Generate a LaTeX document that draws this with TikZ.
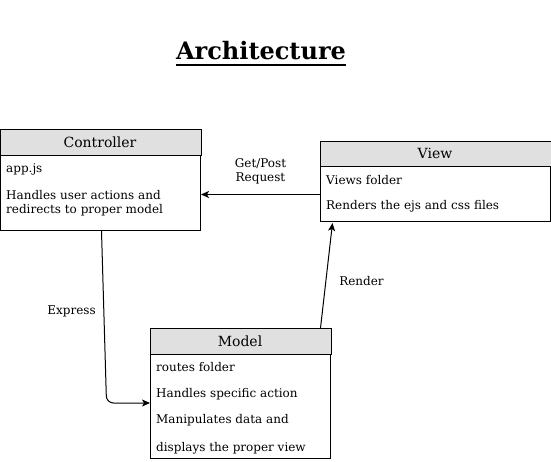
\documentclass[tikz,border=0pt]{standalone}
\usepackage{fontspec}
\setmainfont{DejaVu Serif}
\usetikzlibrary{arrows.meta,calc}
\definecolor{hdrgray}{RGB}{224,224,224}
\tikzset{
  box/.style={draw=black, line width=1pt, rectangle, inner sep=0pt, anchor=north west},
  hdr/.style={fill=hdrgray, draw=black, line width=1pt},
  hdrtext/.style={font=\fontsize{14}{16}\selectfont, anchor=base, inner sep=0pt},
  bodytext/.style={font=\fontsize{12}{14.4}\selectfont, anchor=base west, inner sep=0pt},
  lbl/.style={font=\fontsize{12}{14.4}\selectfont, inner sep=0pt, align=center},
  conn/.style={draw=black, line width=1pt, -{Stealth[length=8pt,width=7pt,inset=2pt]}},
}
\begin{document}
\begin{tikzpicture}[x=1pt,y=-1pt]
\useasboundingbox (0,0) rectangle (551,462);
% title
\node[font=\fontsize{24}{28}\selectfont\bfseries, anchor=base, inner sep=0pt] (title) at (261,60) {Architecture};
\draw[line width=1.5pt] ([yshift=-5pt]title.base west) -- ([yshift=-5pt]title.base east);

% Controller
\node[box, minimum width=200pt, minimum height=100pt] (ctrl) at (0,130) {};
\draw[hdr] (ctrl.north west) rectangle ([yshift=-26pt]ctrl.north east);
\node[hdrtext] (ctrlh) at (100,148) {Controller};
\node[bodytext] (c1) at (6,173) {app.js};
\node[bodytext] (c2) at (6,200) {Handles user actions and};
\node[bodytext] (c3) at (6,214) {redirects to proper model};

% View
\node[box, minimum width=230pt, minimum height=79pt] (view) at (320,142) {};
\draw[hdr] (view.north west) rectangle ([yshift=-25pt]view.north east);
\node[hdrtext] (viewh) at (435,159) {View};
\node[bodytext] (v1) at (326,184.5) {Views folder};
\node[bodytext] (v2) at (326,210) {Renders the ejs and css files};

% Model
\node[box, minimum width=180pt, minimum height=130pt] (model) at (150,328) {};
\draw[hdr] (model.north west) rectangle ([yshift=-26pt]model.north east);
\node[hdrtext] (modelh) at (240,346) {Model};
\node[bodytext] (m1) at (156,371) {routes folder};
\node[bodytext] (m2) at (156,397.5) {Handles specific action};
\node[bodytext] (m3) at (156,423) {Manipulates data and};
\node[bodytext] (m4) at (156,451) {displays the proper view};

% connectors
\draw[conn] ([yshift=-12.5pt]view.west) -- ([yshift=-14pt]ctrl.east);
\node[lbl] (getpost) at (260.5,171) {Get/Post\\Request};

\coordinate (ebend) at (106.5,403);
\draw[conn, rounded corners=7pt] ([xshift=1pt]ctrl.south) -- (ebend) -- (model.west |- ebend);
\node[lbl] (express) at (71.5,311) {Express};

\draw[conn] ([xshift=80pt]model.north) -- ([xshift=-103pt, yshift=-1pt]view.south);
\node[lbl] (render) at (361.5,281) {Render};
\end{tikzpicture}
\end{document}
